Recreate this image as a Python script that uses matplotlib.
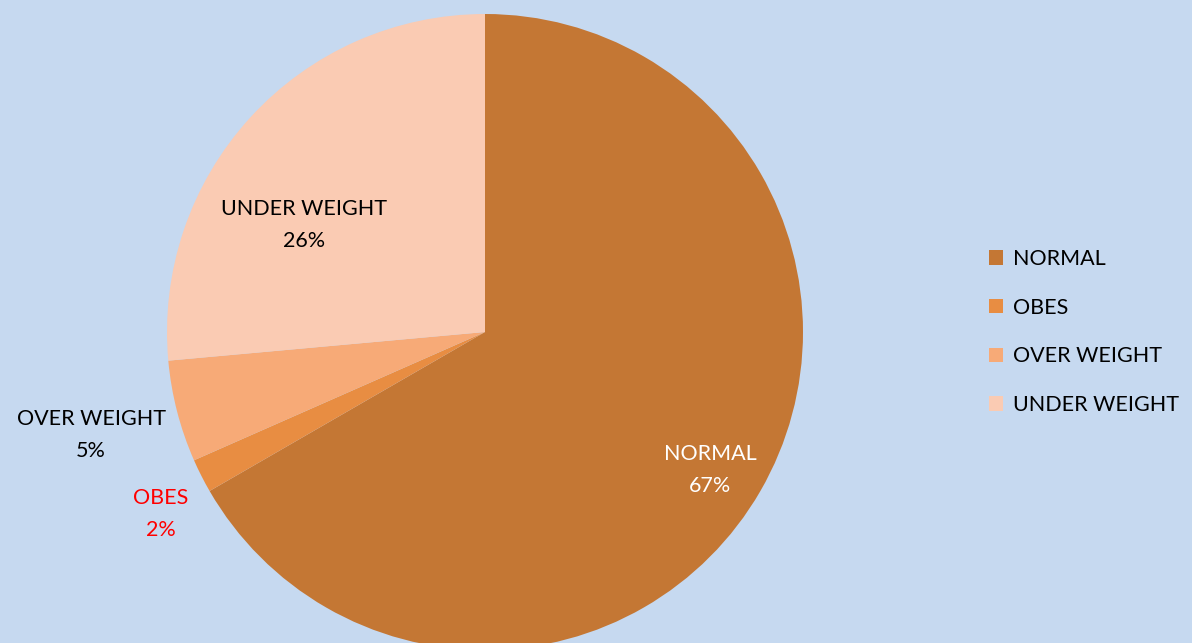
import matplotlib.pyplot as plt
import numpy as np

# dados do grafico
categorias = ['NORMAL', 'OBES', 'OVER WEIGHT', 'UNDER WEIGHT']
valores = [116, 3, 9, 46]
cores = ['#C47734', '#E88D42', '#F7AA77', '#FACBB3']
cor_rotulo = ['white', 'red', 'black', 'black']
# posicao dos rotulos (raio relativo, angulo em graus) - layout
pos_rotulo = [(0.83, -31.5), (1.17, 209.3), (1.28, 194.6), (0.66, 149.4)]

fundo = '#C6D9F0'
fig = plt.figure(figsize=(11.92, 6.43), dpi=100, facecolor=fundo)
ax = fig.add_axes([0, 0, 1, 1])
ax.set_facecolor(fundo)

R = 318
cx, cy = 485, 311
wedges, _ = ax.pie(valores, colors=cores, startangle=90, counterclock=False,
                   radius=R, center=(cx, cy), wedgeprops=dict(linewidth=0))
ax.set_xlim(0, 1192)
ax.set_ylim(0, 643)
ax.set_aspect('equal')
ax.axis('off')

total = sum(valores)
for nome, v, c, (r, a) in zip(categorias, valores, cor_rotulo, pos_rotulo):
    x = cx + r * R * np.cos(np.radians(a))
    y = cy + r * R * np.sin(np.radians(a))
    ax.text(x, y, f'{nome}\n{round(100 * v / total)}%', ha='center', va='center',
            color=c, fontsize=15.5, family='Lato', linespacing=1.75)

leg = fig.legend(wedges, categorias, loc='center left',
                 bbox_to_anchor=(970 / 1192, 311 / 643), frameon=False,
                 prop={'family': 'Lato', 'size': 15.5},
                 handlelength=0.65, handleheight=0.65, handletextpad=0.45,
                 labelspacing=1.33)

fig.savefig('out.png', dpi=100, facecolor=fundo)
